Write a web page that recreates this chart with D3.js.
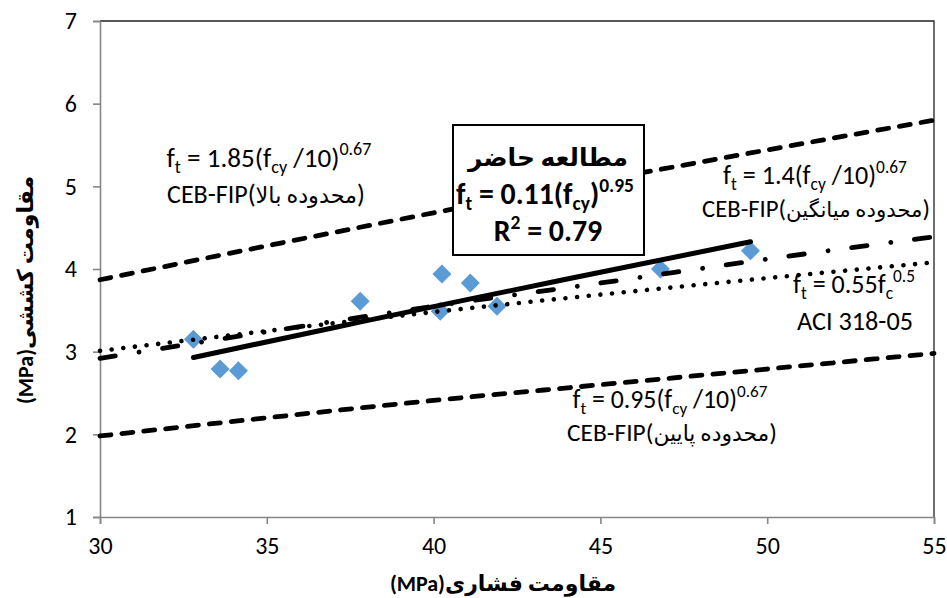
<!DOCTYPE html>
<html>
<head>
<meta charset="utf-8">
<script src="https://cdn.jsdelivr.net/npm/d3@7"></script>
<style>
  html, body { margin: 0; padding: 0; background: #fff; }
  svg { display: block; font-family: Carlito, Lato, "DejaVu Sans", sans-serif; }
</style>
</head>
<body>
<svg id="chart" width="947" height="598"></svg>
<script>
// Axis ticks
const xTicks = [30, 35, 40, 45, 50, 55];
const yTicks = [1, 2, 3, 4, 5, 6, 7];

// Measured specimens: compressive strength (MPa) vs splitting tensile strength (MPa)
const fcy = [32.8, 33.6, 34.15, 37.8, 40.25, 40.2, 41.1, 41.9, 46.8, 49.5];
const ftMeasured = [3.15, 2.79, 2.77, 3.61, 3.94, 3.49, 3.83, 3.55, 4.0, 4.22];

// Code curves sampled along the compressive-strength axis
const curveX = [30, 35, 40, 45, 50, 55];
const cebUpper = [3.87, 4.28, 4.68, 5.07, 5.44, 5.80];
const cebMean = [2.92, 3.24, 3.55, 3.83, 4.12, 4.39];
const cebLower = [1.98, 2.20, 2.41, 2.60, 2.79, 2.98];
const aci = [3.01, 3.25, 3.48, 3.69, 3.89, 4.08];

// Fitted trend of the present study
const trendX = [32.8, 37, 41, 45, 49.5];
const trendY = [2.93, 3.29, 3.63, 3.96, 4.33];

const svg = d3.select("#chart");
const plotL = 100, plotR = 934, plotT = 21, plotB = 517;

const x = d3.scaleLinear().domain([30, 55]).range([plotL, plotR]);
const y = d3.scaleLinear().domain([1, 7]).range([plotB, plotT]);

// Plot frame (top and right edges)
svg.append("path")
  .attr("d", `M${plotL},${plotT}H${plotR}V${plotB}`)
  .attr("fill", "none").attr("stroke", "#222").attr("stroke-width", 1.3);

// Axes
const xAxis = svg.append("g").attr("transform", `translate(0,${plotB})`)
  .call(d3.axisBottom(x).tickValues(xTicks).tickSize(7).tickPadding(13).tickFormat(d3.format("d")));
const yAxis = svg.append("g").attr("transform", `translate(${plotL},0)`)
  .call(d3.axisLeft(y).tickValues(yTicks).tickSize(7).tickPadding(16).tickFormat(d3.format("d")));
[xAxis, yAxis].forEach(g => {
  g.select(".domain").attr("stroke", "#868686").attr("stroke-width", 1.6);
  g.selectAll(".tick line").attr("stroke", "#868686").attr("stroke-width", 1.6);
  g.selectAll(".tick text").attr("fill", "#000").style("font-size", "24px")
    .style("font-family", "Carlito, Lato, sans-serif");
});

// Data markers (diamonds)
const pts = fcy.map((v, i) => [v, ftMeasured[i]]);
svg.append("g").selectAll("path").data(pts).enter().append("path")
  .attr("d", d => {
    const cx = x(d[0]), cy = y(d[1]), r = 9.5;
    return `M${cx},${cy - r}L${cx + r},${cy}L${cx},${cy + r}L${cx - r},${cy}Z`;
  })
  .attr("fill", "#5B9BD5");

// Lines
const line = d3.line().x(d => x(d[0])).y(d => y(d[1])).curve(d3.curveMonotoneX);
function drawSeries(xs, ys, dash, width) {
  svg.append("path")
    .datum(xs.map((v, i) => [v, ys[i]]))
    .attr("d", line)
    .attr("fill", "none")
    .attr("stroke", "#000")
    .attr("stroke-width", width)
    .attr("stroke-linecap", "round")
    .attr("stroke-dasharray", dash);
}
drawSeries(curveX, cebUpper, "11,11", 4.8);
drawSeries(curveX, cebLower, "11,11", 4.8);
drawSeries(curveX, cebMean, "15.5,24,0.01,23.8", 4.8);
drawSeries(curveX, aci, "0.01,11.7", 4.6);
drawSeries(trendX, trendY, null, 5);

// Multi-part label with sub/superscripts, sized so that it spans `width` pixels
function richText(cx, base, parts, width, opts = {}) {
  const size = opts.size || 21, small = opts.small || 14;
  function build(k) {
    const t = svg.append("text")
      .attr("x", cx).attr("y", base)
      .attr("text-anchor", "middle")
      .attr("fill", "#000")
      .style("font-size", (size * k) + "px")
      .style("font-weight", opts.bold ? "bold" : "normal");
    let shift = 0;
    parts.forEach(p => {
      const target = (p.sub ? 4.5 : p.sup ? -9 : 0) * k;
      const span = t.append("tspan").text(p.t).attr("dy", target - shift);
      if (p.sub || p.sup) span.style("font-size", (small * k) + "px");
      if (p.ar) span.style("font-size", (size * (opts.arScale || 0.86) * k) + "px");
      shift = target;
    });
    return t;
  }
  let t = build(1);
  if (width) {
    const w = t.node().getBBox().width;
    t.remove();
    t = build(width / w);
  }
  return t;
}

// CEB-FIP upper bound
richText(269, 167, [
  { t: "f" }, { t: "t", sub: true }, { t: " = 1.85(f" }, { t: "cy", sub: true },
  { t: " /10)" }, { t: "0.67", sup: true }
], 205);
richText(266, 203, [{ t: "CEB-FIP(" }, { t: "محدوده بالا", ar: true }, { t: ")" }], 198);

// CEB-FIP mean
richText(815, 184, [
  { t: "f" }, { t: "t", sub: true }, { t: " = 1.4(f" }, { t: "cy", sub: true },
  { t: " /10)" }, { t: "0.67", sup: true }
], 184);
richText(816, 217, [{ t: "CEB-FIP(" }, { t: "محدوده میانگین", ar: true }, { t: ")" }], 228);

// ACI 318-05
richText(854, 293, [
  { t: "f" }, { t: "t", sub: true }, { t: " = 0.55f" }, { t: "c", sub: true },
  { t: "0.5", sup: true }
], 122);
richText(855, 330, [{ t: "ACI 318-05" }], 116);

// CEB-FIP lower bound
richText(670, 408, [
  { t: "f" }, { t: "t", sub: true }, { t: " = 0.95(f" }, { t: "cy", sub: true },
  { t: " /10)" }, { t: "0.67", sup: true }
], 195);
richText(672, 441, [{ t: "CEB-FIP(" }, { t: "محدوده پایین", ar: true }, { t: ")" }], 210);

// Present-study equation box
svg.append("rect")
  .attr("x", 453).attr("y", 125).attr("width", 191).attr("height", 130)
  .attr("fill", "#fff").attr("stroke", "#000").attr("stroke-width", 2);
richText(548, 166, [{ t: "مطالعه حاضر" }], 161, { bold: true, size: 23 });
richText(545, 204, [
  { t: "f" }, { t: "t", sub: true }, { t: " = 0.11(f" }, { t: "cy", sub: true },
  { t: ")" }, { t: "0.95", sup: true }
], 178, { bold: true, size: 23, small: 15 });
richText(548, 241, [{ t: "R" }, { t: "2", sup: true }, { t: " = 0.79" }], 109, { bold: true, size: 23, small: 15 });

// Axis titles
svg.append("text")
  .attr("x", 503).attr("y", 591)
  .attr("text-anchor", "middle")
  .attr("direction", "rtl")
  .style("font-size", "22px").style("font-weight", "bold")
  .text("مقاومت فشاری(MPa)");

svg.append("text")
  .attr("transform", "translate(33,290) rotate(-90)")
  .attr("text-anchor", "middle")
  .attr("direction", "rtl")
  .style("font-size", "22px").style("font-weight", "bold")
  .text("مقاومت کششی(MPa)");
</script>
</body>
</html>
